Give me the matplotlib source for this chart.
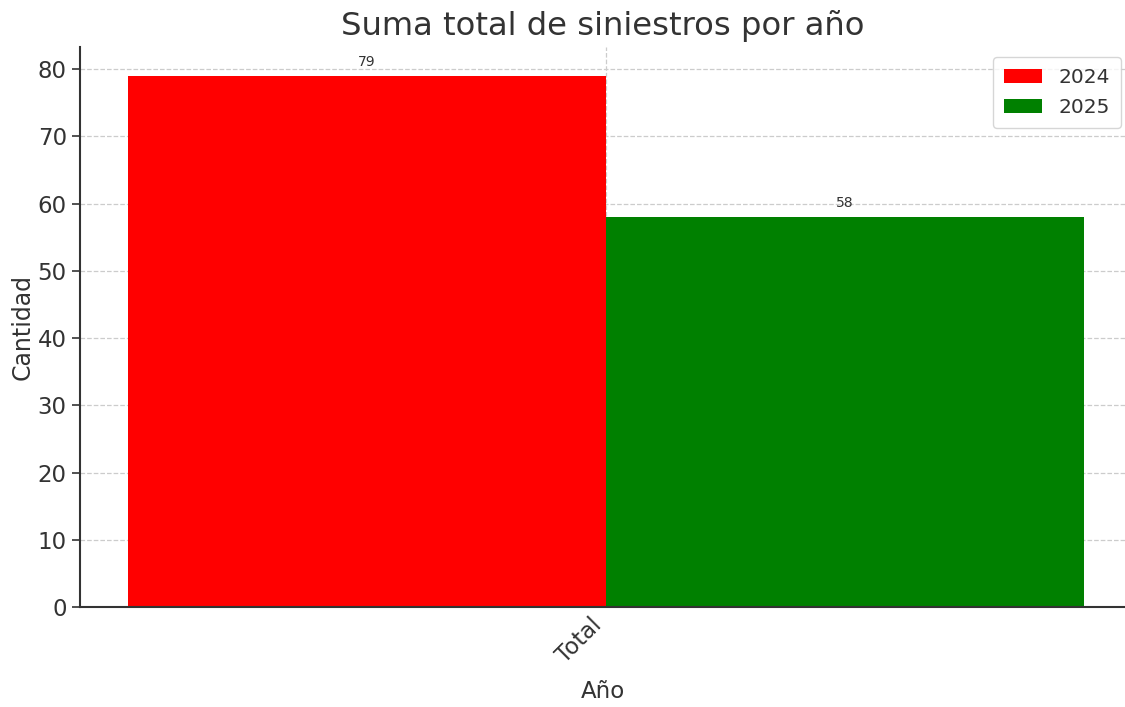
import matplotlib
matplotlib.use("Agg")
import matplotlib.pyplot as plt

categories = ["Total"]
series_names = ["2024", "2025"]
values_2024 = [79]
values_2025 = [58]
colors = ["red", "green"]

TXT = "#333333"
plt.rcParams["font.family"] = "DejaVu Sans"

fig = plt.figure(figsize=(11.25, 7.07), dpi=100)
ax = fig.add_axes([80/1125, 1 - 607/707, 1045/1125, (607 - 47)/707])

w = 0.25
x = list(range(len(categories)))
b1 = ax.bar([xi - w/2 for xi in x], values_2024, width=w, color=colors[0], label=series_names[0], zorder=2)
b2 = ax.bar([xi + w/2 for xi in x], values_2025, width=w, color=colors[1], label=series_names[1], zorder=2)

for bars in (b1, b2):
    for r in bars:
        ax.annotate(f"{int(r.get_height())}", (r.get_x() + r.get_width()/2, r.get_height()),
                    xytext=(0, 5), textcoords="offset points", ha="center", va="bottom",
                    fontsize=10, color=TXT)

ax.set_xlim(-0.275, 0.2715)
ax.set_ylim(0, 83.3)
ax.set_xticks(x)
ax.set_xticklabels(categories, rotation=45, ha="right", fontsize=16.5, color=TXT)
ax.tick_params(axis="x", length=0, pad=5)
ax.tick_params(axis="y", labelsize=16.5, labelcolor=TXT, color=TXT, length=6, width=1.2)
ax.set_yticks(range(0, 81, 10))

ax.grid(True, linestyle="--", color="#cccccc", linewidth=0.9, zorder=0)
ax.set_axisbelow(True)
for s in ["top", "right"]:
    ax.spines[s].set_visible(False)
for s in ["left", "bottom"]:
    ax.spines[s].set_color(TXT)
    ax.spines[s].set_linewidth(1.5)

ax.set_title("Suma total de siniestros por año", fontsize=23.2, color=TXT, pad=9)
ax.set_xlabel("Año", fontsize=16.5, color=TXT, labelpad=9)
ax.set_ylabel("Cantidad", fontsize=17, color=TXT, labelpad=2)

leg = ax.legend(loc="upper right", bbox_to_anchor=((1121 - 80)/1045, 1 - 10/560),
                borderaxespad=0, fontsize=14.5, frameon=True, handlelength=1.9,
                labelspacing=0.55, borderpad=0.55)
for t in leg.get_texts():
    t.set_color(TXT)

fig.savefig("out.png", dpi=100)
